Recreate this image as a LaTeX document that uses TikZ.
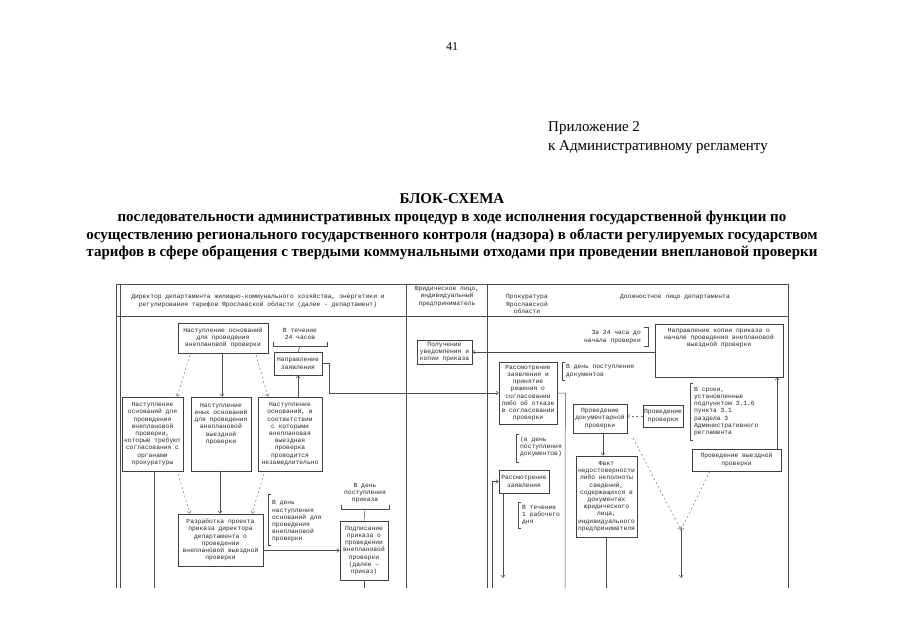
\documentclass[tikz,border=0pt]{standalone}
\usepackage{fontspec}
\setmainfont{Liberation Serif}
\newfontfamily\monofont{Liberation Mono}
\usetikzlibrary{arrows.meta, positioning, calc}

\begin{document}
\begin{tikzpicture}[
    x=1pt, y=-1pt,
    block/.style={rectangle, draw=black!75, line width=0.6pt, align=center, inner sep=1pt, font=\monofont\fontsize{6.3}{7.2}\selectfont, text=black!85},
    note/.style={inner sep=0pt, font=\monofont\fontsize{6.3}{7.2}\selectfont, text=black!85},
    gridline/.style={draw=black!70, line width=0.6pt},
    line/.style={draw=black!70, line width=0.5pt, -{Straight Barb[length=2.5pt, width=4pt]}},
    link/.style={draw=black!70, line width=0.5pt},
    dline/.style={draw=black!55, line width=0.5pt, dash pattern=on 2pt off 2.5pt, -{Straight Barb[length=2.5pt, width=4pt]}},
    brace/.style={draw=black!70, line width=0.5pt}
]
\useasboundingbox (0,0) rectangle (905,640);
\fill[white] (0,0) rectangle (905,640);

% Page head
\node[font=\fontsize{12}{14}\selectfont] (pagenum) at (452,47) {41};
\node[anchor=west, align=left, inner sep=0pt, font=\fontsize{15}{19}\selectfont] (annex) at (548,137.5) {Приложение 2\\к Административному регламенту};
\node[align=center, font=\bfseries\fontsize{15}{17.7}\selectfont] (title) at (452,227) {БЛОК-СХЕМА\\последовательности административных процедур в ходе исполнения государственной функции по\\осуществлению регионального государственного контроля (надзора) в области регулируемых государством\\тарифов в сфере обращения с твердыми коммунальными отходами при проведении внеплановой проверки};

% Table frame
\draw[gridline] (116,284) -- (788,284);
\draw[gridline] (116,316) -- (788,316);
\draw[gridline] (116,284) -- (116,588);
\draw[gridline] (120,284) -- (120,588);
\draw[gridline] (406,284) -- (406,588);
\draw[gridline] (487,284) -- (487,588);
\draw[gridline] (788,284) -- (788,588);

% Column heads
\node[note, align=center] (hdir) at (258,301) {Директор департамента жилищно-коммунального хозяйства, энергетики и\\регулирования тарифов Ярославской области (далее - департамент)};
\node[note, align=center] (hyur) at (447,296.5) {Юридическое лицо,\\индивидуальный\\предприниматель};
\node[note, align=center] (hprok) at (527,304) {Прокуратура\\Ярославской\\области};
\node[note, align=center] (hdolzh) at (675,297) {Должностное лицо департамента};

% Nodes
\node[block, minimum width=90, minimum height=30] (osn) at (223,338) {Наступление оснований\\для проведения\\внеплановой проверки};
\node[note, align=center] (srok24) at (300,334) {В течение\\24 часов};
\node[block, minimum width=48, minimum height=23] (napr) at (298,363.5) {Направление\\заявления};

\node[block, minimum width=61, minimum height=74] (osnA) at (152.5,434) {Наступление\\оснований для\\проведения\\внеплановой\\проверки,\\которые требуют\\согласования с\\органами\\прокуратуры};
\node[block, minimum width=60, minimum height=74] (osnB) at (221,434) {Наступление\\иных оснований\\для проведения\\внеплановой\\выездной\\проверки\\[14.4pt]};
\node[block, minimum width=64, minimum height=74] (osnC) at (290,434) {Наступление\\оснований, в\\соответствии\\с которыми\\внеплановая\\выездная\\проверка\\проводится\\незамедлительно};

\node[block, minimum width=85, minimum height=52] (razr) at (220.5,540) {Разработка проекта\\приказа директора\\департамента о\\проведении\\внеплановой выездной\\проверки};
\node[note, anchor=west, align=left] (dennast) at (272,521.5) {В день\\наступления\\оснований для\\проведения\\внеплановой\\проверки};
\node[note, align=center] (denpost) at (365,493) {В день\\поступления\\приказа};
\node[block, minimum width=48, minimum height=59] (podpis) at (364,550.5) {Подписание\\приказа о\\проведении\\внеплановой\\проверки\\(далее –\\приказ)};

\node[block, minimum width=55, minimum height=24] (poluch) at (444.5,352) {Получение\\уведомления и\\копии приказа};

\node[note, anchor=east, align=right] (za24) at (641,337) {За 24 часа до\\начала проверки};
\node[block, minimum width=128, minimum height=53] (kopiya) at (719,350.5) {};
\node[note, align=center, below=4pt of kopiya.north] (kopiyatext) {Направление копии приказа о\\начале проведения внеплановой\\выездной проверки};

\node[block, minimum width=58, minimum height=62] (rassm) at (528,393) {Рассмотрение\\заявления и\\принятие\\решения о\\согласовании\\либо об отказе\\в согласовании\\проверки};
\node[note, anchor=west, align=left] (dendok) at (566,371) {В день поступления\\документов};
\node[note, anchor=west, align=left] (dendok2) at (520,447) {(в день\\поступления\\документов)};
\node[block, minimum width=50, minimum height=23] (rassm2) at (524,481.5) {Рассмотрение\\заявления};
\node[note, anchor=west, align=left] (rabden) at (522,515) {В течение\\1 рабочего\\дня};

\node[block, minimum width=54, minimum height=29] (doc) at (600,418.5) {Проведение\\документарной\\проверки};
\node[block, minimum width=61, minimum height=81] (fakt) at (606.5,496.5) {Факт\\недостоверности\\либо неполноты\\сведений,\\содержащихся в\\документах\\юридического\\лица,\\индивидуального\\предпринимателя};
\node[block, minimum width=40, minimum height=22] (prov) at (663,416) {Проведение\\проверки};
\node[note, anchor=west, align=left] (sroki) at (694,411.5) {В сроки,\\установленные\\подпунктом 3.1.6\\пункта 3.1\\раздела 3\\Административного\\регламента};
\node[block, minimum width=89, minimum height=22] (vyezd) at (736.5,460) {Проведение выездной\\проверки};
\coordinate (merge) at (681,530);

% Brackets
\draw[brace] (273,342) -- (273,346) -- (327,346) -- (327,342);
\draw[brace] (341,505) -- (341,509) -- (389,509) -- (389,505);
\draw[brace] (271,494) -- (268,494) -- (268,545) -- (271,545);
\draw[brace] (644,327) -- (648,327) -- (648,346) -- (644,346);
\draw[brace] (565,362) -- (562,362) -- (562,380) -- (565,380);
\draw[brace] (519,434) -- (516,434) -- (516,462) -- (519,462);
\draw[brace] (521,502) -- (518,502) -- (518,528) -- (521,528);
\draw[brace] (693,383) -- (690,383) -- (690,440) -- (693,440);

% Arrows
\draw[link] (srok24.south |- 0,346) -- (napr.north);
\draw[dline] (190,355) -- (osnA.north -| 177,0);
\draw[line] (osn.south -| 222,0) -- (osnB.north -| 222,0);
\draw[dline] (256,355) -- (osnC.north -| 268,0);
\draw[line] (osnC.north -| napr.south) -- (napr.south);
\draw[line] (napr.east) -- ++(7,0) |- (rassm.west);

\draw[dline] (178,474) -- (razr.north -| 190,0);
\draw[line] (osnB.south -| 220,0) -- (razr.north -| 220,0);
\draw[dline] (264,474) -- (razr.north -| 252,0);
\draw[link] (osnA.south -| 154,0) -- (154,588);

\draw[link] (denpost.south |- 0,509) -- (podpis.north);
\draw[line] (razr.east |- podpis.west) -- (podpis.west);
\draw[link] (podpis.south) -- (podpis.south |- 0,588);

\draw[line] (kopiya.west |- poluch.east) -- (poluch.east);
\draw[link] (rassm.east) -- ++(8,0) -- (565,588);
\draw[line] (492,588) |- (rassm2.west);
\draw[line] (rassm2.south -| 503,0) -- (503,578);

\draw[line] (doc.south -| 603,0) -- (fakt.north -| 603,0);
\draw[link] (fakt.south) -- (fakt.south |- 0,588);
\draw[dline] (prov.west) -- (doc.east |- prov.west);
\draw[dline] (633,438) -- (merge);
\draw[dline] (vyezd.south -| 710,0) -- (merge);
\draw[line] (merge) -- (681,578);
\draw[line] (vyezd.north -| 777,0) -- (kopiya.south -| 777,0);

\end{tikzpicture}
\end{document}
